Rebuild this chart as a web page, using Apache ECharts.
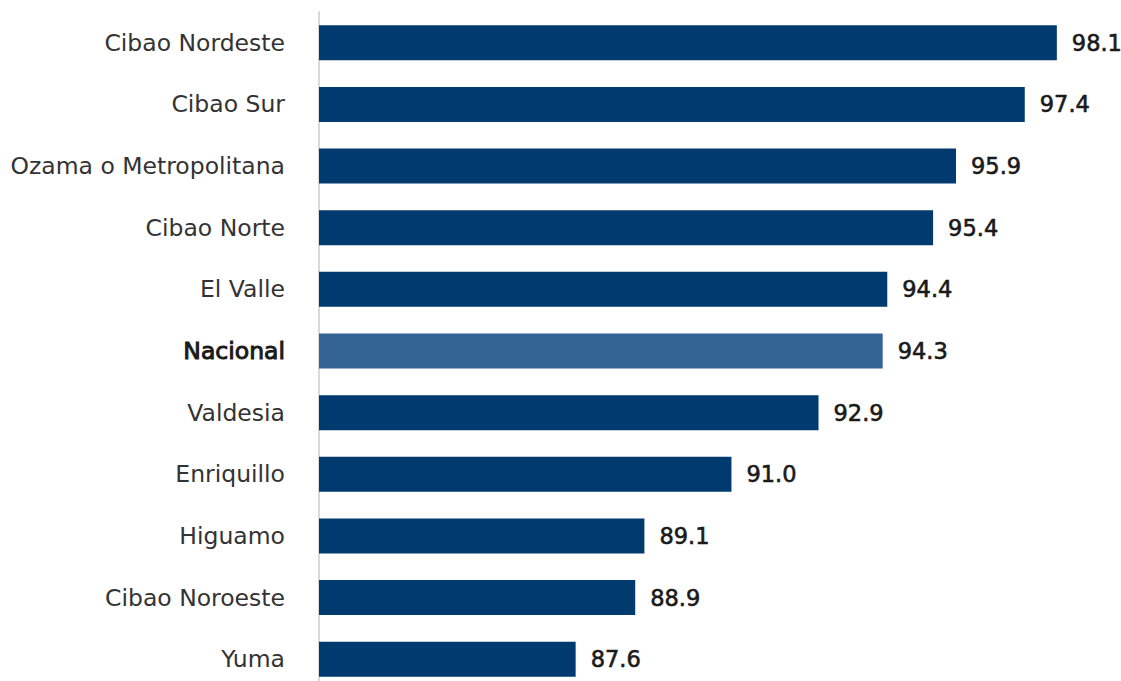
<!DOCTYPE html>
<html>
<head>
<meta charset="utf-8">
<script src="https://cdn.jsdelivr.net/npm/echarts@6/dist/echarts.min.js"></script>
<style>
  html, body { margin: 0; padding: 0; background: #fff; overflow: hidden; }
  /* taller than the window: the last row runs past the bottom edge in the original */
  #chart { width: 1121px; height: 690px; }
</style>
</head>
<body>
<div id="chart"></div>
<script>
  // top to bottom as in the picture
  const regions = [
    "Cibao Nordeste", "Cibao Sur", "Ozama o Metropolitana", "Cibao Norte",
    "El Valle", "Nacional", "Valdesia", "Enriquillo", "Higuamo",
    "Cibao Noroeste", "Yuma"
  ];
  const values = [98.1, 97.4, 95.9, 95.4, 94.4, 94.3, 92.9, 91.0, 89.1, 88.9, 87.6];
  const highlight = "Nacional";

  const navy = "#003a6e";
  const light = "#336494";
  const font = "DejaVu Sans";

  const chart = echarts.init(document.getElementById("chart"), null, { renderer: "svg" });

  chart.setOption({
    animation: false,
    grid: { left: 319, right: 0, top: 12, bottom: 0, containLabel: false },
    xAxis: {
      type: "value",
      min: 82,
      max: 99.5,
      show: false
    },
    yAxis: {
      type: "category",
      inverse: true,
      data: regions,
      axisLine: { show: true, lineStyle: { color: "#d9d9d9", width: 2 } },
      axisTick: { show: false },
      axisLabel: {
        margin: 34,
        fontFamily: font,
        fontSize: 23.5,
        color: "#333333",
        formatter: (v) => v === highlight ? "{b|" + v + "}" : v,
        rich: {
          b: {
            fontFamily: font, fontSize: 23.5, color: "#1a1a1a",
            textBorderColor: "#1a1a1a", textBorderWidth: 1
          }
        }
      }
    },
    series: [{
      type: "bar",
      barWidth: 35,
      data: values.map((v, i) => ({
        value: v,
        itemStyle: { color: regions[i] === highlight ? light : navy }
      })),
      label: {
        show: true,
        position: "right",
        distance: 15,
        fontFamily: font,
        fontSize: 22.5,
        color: "#1a1a1a",
        textBorderColor: "#1a1a1a",
        textBorderWidth: 0.6,
        formatter: (p) => p.value.toFixed(1)
      }
    }]
  });
</script>
</body>
</html>
